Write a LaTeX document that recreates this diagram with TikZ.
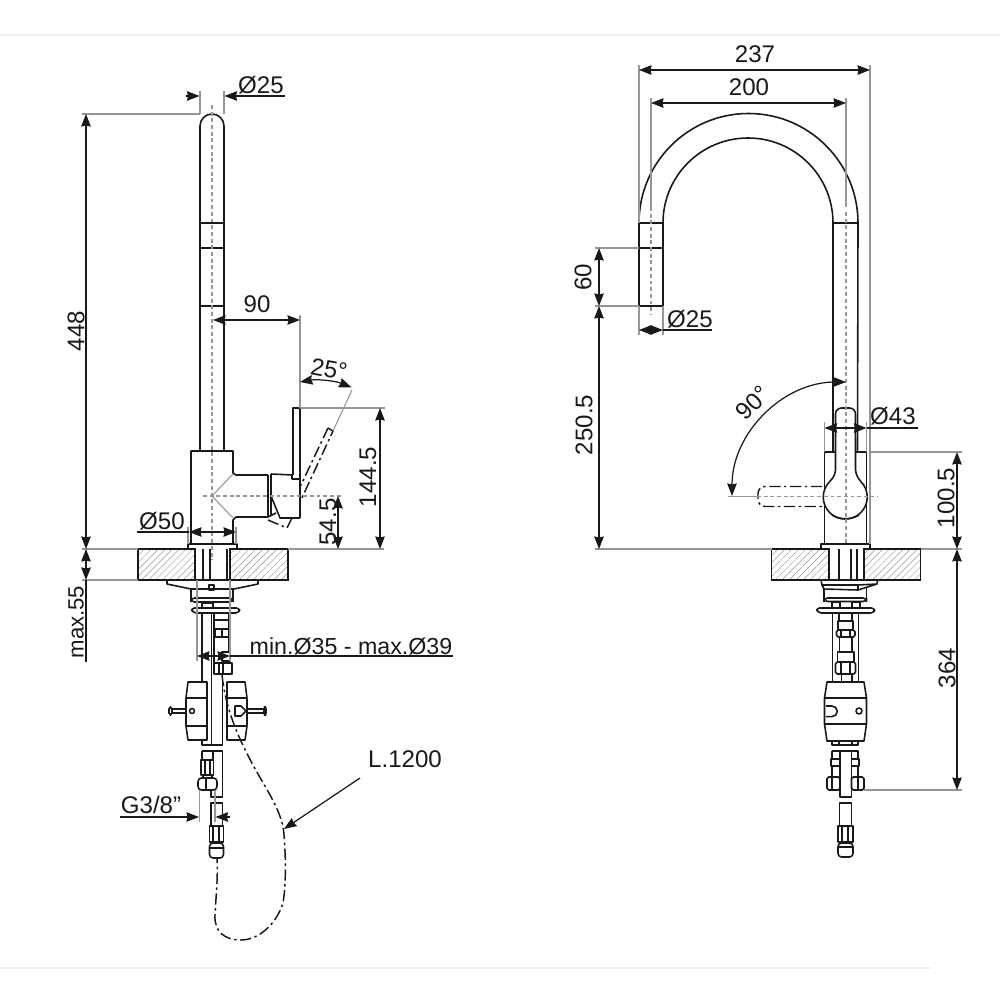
\documentclass[tikz,border=0pt]{standalone}
\usepackage{fontspec}
\setmainfont{Liberation Sans}
\usetikzlibrary{arrows.meta,patterns.meta}
\definecolor{extcolor}{RGB}{150, 150, 150}
\definecolor{inkcolor}{RGB}{25, 25, 25}
\definecolor{rulecolor}{RGB}{238, 238, 238}

\begin{document}
\begin{tikzpicture}[
        x=0.01cm, y=-0.01cm,
        part/.style={draw=inkcolor, line width=0.45pt, line join=round},
        ghost/.style={draw=inkcolor, line width=0.42pt, dash pattern=on 3.2pt off 1pt on 0.7pt off 1pt},
        axis/.style={draw=extcolor, line width=0.3pt, dash pattern=on 1.1pt off 0.8pt},
        ext/.style={draw=extcolor, line width=0.3pt},
        dim/.style={draw=inkcolor, line width=0.35pt, >={Stealth[length=0.125cm, width=0.095cm, inset=0.01cm]}},
        slab/.style={draw=inkcolor, line width=0.4pt, pattern={Lines[angle=45, distance=1.4pt, line width=0.13pt]}, pattern color=extcolor},
        lbl/.style={font=\fontsize{6.85pt}{7pt}\selectfont, text=inkcolor, inner sep=0pt}
    ]
        \useasboundingbox (0,0) rectangle (1000,1000);

        % Page rules
        \draw[rulecolor, line width=0.3pt] (0,35) -- (1000,35);
        \draw[rulecolor, line width=0.3pt] (0,968) -- (930,968);

        % Left view: spout
        \draw[part] (200,451) -- (200,126) arc (180:360:12) -- (224,451);
        \draw[part] (200,223) -- (224,223) (200,248) -- (224,248) (200,306) -- (224,306);

        % Left view: body and lever
        \draw[part] (191,544) -- (191,451) -- (233,451) -- (233,473) -- (236,475) -- (268,475);
        \draw[part] (233,544) -- (233,520) -- (236,517) -- (268,517);
        \draw[part] (268,475) -- (268,517) (271,474) -- (271,515);
        \draw[part] (271,474) -- (293,475) (271,496) -- (280,518) -- (300,518);
        \draw[part] (268,517) -- (276,513);
        \draw[part] (293,475) -- (293,408) -- (300,408) -- (300,518);
        \draw[part] (292,475) -- (292,479) -- (300,479);
        \draw[ext] (233,474) -- (212,496) -- (233,518);
        \draw[part] (188,549) -- (188,544) -- (237,544) -- (237,549);
        \draw[ghost] (328,428) -- (333,431) -- (300,502);
        \draw[ghost] (328,428) -- (300,487);
        \draw[ghost] (268,520) -- (287,528) -- (292,518);

        % Left view: slab
        \draw[slab] (138,549) rectangle (195,580);
        \draw[slab] (230,549) rectangle (288,580);
        \draw[part] (203,549) -- (203,580) (210,549) -- (210,580) (227,549) -- (227,580);
        \draw[part] (195,549) -- (195,580) (230,549) -- (230,580);

        % Left view: under the slab
        \draw[part] (167,580) -- (258,580) -- (258,584) -- (234,589) -- (191,589) -- (167,584) -- cycle;
        \draw[part] (191,589) -- (191,598) (233,589) -- (233,598);
        \draw[part, rounded corners=1pt] (191,598) rectangle (233,602);
        \draw[part] (209,585) rectangle (214,590);
        \draw[part] (202,603) rectangle (213,608);
        \draw[part, rounded corners=1pt] (191,608) -- (240,608) -- (239,613) -- (193,613) -- cycle;
        \draw[part] (202,613) -- (202,682) (211.5,613) -- (211.5,745) (214,613) -- (214,662);
        \draw[part] (222.5,674) -- (222.5,745) -- (202,745) -- (202,740);
        \draw[part] (229,613) -- (229,652) (215,620) -- (228,620);
        \draw[part] (215,629) rectangle (230,637) (222,629) -- (222,637);
        \draw[part] (222,652) rectangle (230,661);
        \draw[part] (214,663) rectangle (232,674) (219,663) -- (219,674) (223,663) -- (223,674);

        % Left view: mixer block
        \draw[part] (188,682) -- (207,682) -- (207,740) -- (188,740) -- (186,726) -- (186,698) -- cycle;
        \draw[part] (186,698) -- (207,698) (186,726) -- (207,726);
        \draw[part] (227,682) -- (245,682) -- (247,698) -- (247,726) -- (245,740) -- (227,740) -- cycle;
        \draw[part] (227,698) -- (247,698) (227,726) -- (247,726);
        \draw[part] (192,711) circle (2.5);
        \draw[part] (235,706) -- (241,706) -- (246,711) -- (241,716) -- (235,716) -- cycle;
        \draw[part] (172,709) -- (186,709) (172,713) -- (186,713);
        \draw[part, rounded corners=0.5pt] (169,707) rectangle (172,715);
        \draw[part] (247,709) -- (264,709) (247,713) -- (264,713);
        \draw[part, rounded corners=0.5pt] (264,707) rectangle (266,715);

        % Left view: hot and cold connections
        \draw[part] (202,751) -- (222.5,751) -- (222.5,797) -- (211,797) -- (211,790);
        \draw[part] (202,751) -- (202,760) (213,751) -- (213,760);
        \draw[part] (201,760) rectangle (213.5,775);
        \draw[part] (205,760) -- (205,775) (210,760) -- (210,775);
        \draw[part] (203,775) -- (203,778) (212,775) -- (212,778);
        \draw[part, rounded corners=1pt] (198,778) rectangle (217,790);
        \draw[part] (206,778) -- (206,790);
        \draw[part] (211,803) rectangle (222.5,826);
        \draw[part] (209.5,826) rectangle (223.5,842);
        \draw[part] (213,826) -- (213,842) (219,826) -- (219,842);
        \draw[part, rounded corners=1pt] (209.5,843) rectangle (223.5,858);
        \draw[part] (209.5,848) -- (223.5,848);

        % Left view: hose
        \draw[ghost] (222,675) .. controls (226,712) and (240,742) .. (258,774)
            .. controls (270,795) and (283,815) .. (284,835)
            .. controls (286,860) and (286,885) .. (283,903)
            .. controls (276,925) and (258,940) .. (241,940)
            .. controls (225,940) and (214,932) .. (215,915)
            .. controls (216,895) and (218,880) .. (217,858);

        % Left view: axes
        \draw[axis] (212,105) -- (212,560);
        \draw[axis] (203,496) -- (342,496);

        % Left view: dimensions
        \draw[ext] (82,114) -- (200,114);
        \draw[ext] (82,549) -- (138,549) (288,549) -- (384,549);
        \draw[ext] (82,580) -- (138,580);
        \draw[ext] (200,91) -- (200,114) (224,91) -- (224,114);
        \draw[ext] (300,315) -- (300,408) (300,408) -- (385,408);
        \draw[ext] (333,431) -- (352,390);
        \draw[ext] (188,527) -- (188,544) (236,527) -- (236,544);
        \draw[ext] (197,580) -- (197,661) (230,580) -- (230,661);
        \draw[ext] (199.3,790) -- (199.3,822) (215,790) -- (215,822);

        \draw[dim, <->] (86,114) -- (86,549);
        \node[lbl, rotate=90] (len448) at (76,331) {448};
        \draw[dim, ->] (186,96) -- (199.5,96);
        \draw[dim, <-] (224.5,96) -- (285,96);
        \node[lbl] (dia25a) at (261,85) {Ø25};
        \draw[dim, <->] (213,320) -- (300,320);
        \node[lbl] (len90) at (257,304) {90};
        \draw[dim, <->] (300,382) arc (-100:-68:94);
        \node[lbl, rotate=-10] (ang25) at (329,369) {25°};
        \draw[dim, <->] (380,408) -- (380,549);
        \node[lbl, rotate=90] (len144) at (368,477) {144.5};
        \draw[dim, <->] (338,496) -- (338,549);
        \node[lbl, rotate=90] (len54) at (328,522) {54.5};
        \draw[dim, <->] (189,532) -- (236,532);
        \draw[dim] (137,532) -- (189,532);
        \node[lbl] (dia50) at (162,521) {Ø50};
        \draw[dim, <->] (86,549) -- (86,580);
        \draw[dim] (86,580) -- (86,662);
        \node[lbl, rotate=90, font=\fontsize{6.3pt}{7pt}\selectfont] (max55) at (76,622) {max.55};
        \draw[dim, <->] (197,656) -- (230,656);
        \draw[dim] (230,656) -- (453,656);
        \node[lbl, font=\fontsize{6.6pt}{7pt}\selectfont] (minmax) at (351,646) {min.Ø35 - max.Ø39};
        \draw[dim, ->] (120,817) -- (199,817);
        \draw[dim, <-] (215.5,817) -- (230,817);
        \node[lbl] (thread) at (151,805) {G3/8"};
        \draw[dim, ->] (360,778) -- (284,829);
        \node[lbl] (hoselen) at (405,759) {L.1200};

        % Right view: spout
        \draw[part] (639,306) -- (639,223) arc (180:360:109.5) -- (857.5,452);
        \draw[part] (663,306) -- (663,223) arc (180:360:85) -- (833,452);
        \draw[part] (639,223) -- (663,223) (639,248) -- (663,248) (639,306) -- (663,306);
        \draw[part] (833,223) -- (857.5,223);

        % Right view: body and lever
        \draw[part] (824.5,544) -- (824.5,452) -- (866.5,452) -- (866.5,544);
        \draw[part] (821,549) -- (821,544) -- (870,544) -- (870,549);
        \draw[part, fill=white] (835.5,470) -- (835.5,414) arc (180:270:6) -- (849.5,408) arc (270:360:6) -- (855.5,470)
            .. controls (856,476) and (859,479) .. (860.8,481.5) arc (-45:225:22)
            .. controls (832,479) and (835,476) .. (835.5,470) -- cycle;
        \draw[part] (832,515) .. controls (840,520) and (851,520) .. (859,515);
        \draw[ghost, rounded corners=2pt] (822,486.5) -- (758,486.5) -- (758,506.5) -- (822,506.5);

        % Right view: slab
        \draw[slab] (771.5,549) rectangle (829,580);
        \draw[slab] (864,549) rectangle (920.5,580);
        \draw[part] (829,549) -- (829,580) (839,549) -- (839,580) (851,549) -- (851,580) (857,549) -- (857,580) (864,549) -- (864,580);

        % Right view: under the slab
        \draw[part] (821,580) -- (877.5,580) -- (877,584) -- (858,590) -- (858,585) -- (877,584);
        \draw[part] (821,580) -- (822,585) -- (858,585);
        \draw[part] (822,585) -- (824,589) -- (858,590);
        \draw[part] (824,589) -- (824,598) (866.5,588) -- (866.5,598);
        \draw[part, rounded corners=1pt] (824,598) rectangle (866.5,601.5);
        \draw[part] (832,602) rectangle (840,608) (852,602) rectangle (860,608);
        \draw[part, rounded corners=1pt] (816,608) -- (875,608) -- (874,613) -- (818,613) -- cycle;
        \draw[part] (832.5,613) -- (832.5,682) (858.3,613) -- (858.3,682);
        \draw[part] (839,613) -- (839,621) (852,613) -- (852,621);
        \draw[part] (838,621) rectangle (853,630);
        \draw[part, rounded corners=0.5pt] (836.5,630) rectangle (855,637);
        \draw[part] (841,630) -- (841,637) (850,630) -- (850,637);
        \draw[part] (839.5,637) -- (839.5,652) (852,637) -- (852,652);
        \draw[part] (837.5,652) rectangle (854,662);
        \draw[part, rounded corners=0.5pt] (835.5,662) rectangle (855.5,674);
        \draw[part] (841,662) -- (841,674) (850,662) -- (850,674);
        \draw[part] (841.5,674) -- (841.5,682) (852,674) -- (852,682);

        % Right view: mixer block
        \draw[part] (827,682) -- (864,682) -- (866.5,698) -- (866.5,724) -- (864,741) -- (827,741) -- (824.5,724) -- (824.5,698) -- cycle;
        \draw[part] (824.5,698) -- (866.5,698) (824.5,724) -- (866.5,724);
        \draw[part] (826,706) -- (832,706) arc (-90:90:5.3) -- (826,716.6);
        \draw[part] (859,711) circle (3);
        \draw[part] (832,741) rectangle (858,745) (839,741) -- (839,745) (852,741) -- (852,745);

        % Right view: hot and cold connections
        \draw[part] (840,751) rectangle (851.5,797);
        \draw[part] (832,751) -- (840,751) (832,751) -- (832,759) (851.5,751) -- (858,751) -- (858,759);
        \draw[part] (831,759) rectangle (840,766) (851.5,759) rectangle (859,766);
        \draw[part] (832,766) -- (832,777) (851.5,766) -- (858,766) -- (858,777);
        \draw[part, rounded corners=0.5pt] (827,777) rectangle (840,790);
        \draw[part, rounded corners=0.5pt] (851.5,777) rectangle (864,790);
        \draw[part] (832,777) -- (832,790) (858,777) -- (858,790);
        \draw[part] (839.5,803) rectangle (851.5,826);
        \draw[part] (838,826) rectangle (853,842);
        \draw[part] (842,826) -- (842,842) (848,826) -- (848,842);
        \draw[part, rounded corners=1pt] (838,843) rectangle (853,857);
        \draw[part] (838,847) -- (853,847);

        % Right view: axes
        \draw[axis] (651,207) -- (651,315);
        \draw[axis] (846,212) -- (846,545);
        \draw[axis] (757,496.5) -- (878,496.5);

        % Right view: dimensions
        \draw[ext] (639,65) -- (639,223) (870,65) -- (870,544);
        \draw[ext] (651,98) -- (651,207) (846,98) -- (846,207);
        \draw[ext] (595,248) -- (639,248) (595,306) -- (639,306);
        \draw[ext] (639,306) -- (639,335) (663,306) -- (663,335);
        \draw[ext] (595,549) -- (771.5,549) (920.5,549) -- (962,549);
        \draw[ext] (728,496.5) -- (757,496.5);
        \draw[ext] (824.5,422) -- (824.5,452) (866.5,422) -- (866.5,452);
        \draw[ext] (870,452) -- (962,452);
        \draw[ext] (864,790) -- (962,790);

        \draw[dim, <->] (639,70) -- (870,70);
        \node[lbl] (wid237) at (755,54) {237};
        \draw[dim, <->] (651,103) -- (846,103);
        \node[lbl] (wid200) at (749,87) {200};
        \draw[dim, <->] (599,248) -- (599,306);
        \node[lbl, rotate=90] (len60) at (583,277) {60};
        \draw[dim, <->] (599,306) -- (599,549);
        \node[lbl, rotate=90] (len250) at (584,425) {250.5};
        \draw[dim, <->] (639,330) -- (663,330);
        \draw[dim] (663,330) -- (712,330);
        \node[lbl] (dia25b) at (690,319) {Ø25};
        \draw[dim, <->] (732,496) arc (180:270:114);
        \node[lbl, rotate=45] (ang90) at (753,403) {90°};
        \draw[dim, <->] (824.5,428) -- (866.5,428);
        \draw[dim] (866.5,428) -- (918,428);
        \node[lbl] (dia43) at (893,416) {Ø43};
        \draw[dim, <->] (957,452) -- (957,549);
        \node[lbl, rotate=90] (len100) at (946,498) {100.5};
        \draw[dim, <->] (957,549) -- (957,790);
        \node[lbl, rotate=90] (len364) at (947,668) {364};

    \end{tikzpicture}
\end{document}
